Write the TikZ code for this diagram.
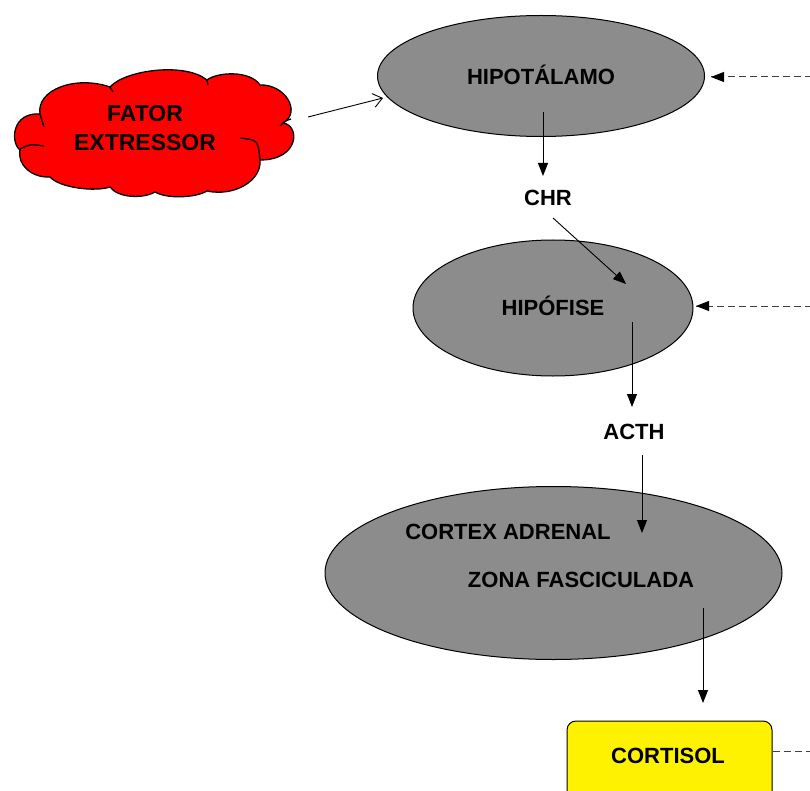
\documentclass[tikz,border=0pt]{standalone}
\usepackage{fontspec}
\setmainfont{Liberation Sans}
\usetikzlibrary{shapes.geometric,arrows.meta}
\definecolor{glandgray}{RGB}{140,140,140}
\definecolor{cloudred}{RGB}{255,0,0}
\tikzset{
  gland/.style={ellipse, draw=black, line width=1pt, fill=glandgray, inner sep=0pt},
  lbl/.style={font=\bfseries\fontsize{22}{29}\selectfont, text=black},
  flow/.style={draw=black, line width=0.9pt, -{Triangle[length=13pt,width=10pt]}},
  feedback/.style={draw=black!75, line width=1pt, dash pattern=on 7pt off 4pt},
  cloudline/.style={draw=black, line width=1.3pt},
}
\begin{document}
\begin{tikzpicture}[x=1pt,y=-1pt]
\useasboundingbox (0,0) rectangle (810,791);
% glands
\node[gland, minimum width=327, minimum height=121] (hipo) at (541,76) {};
\node[gland, minimum width=280, minimum height=136] (hipof) at (553,308) {};
\node[gland, minimum width=457, minimum height=173] (cortex) at (553.5,573) {};
\node[draw=black, line width=1pt, fill=yellow, rounded corners=9pt, minimum width=205, minimum height=80] (cortisol) at (669.5,761) {};
% cloud
\path[cloudline, fill=cloudred]
  (40,114) .. controls (36,90) and (75,75) .. (110,87)
  .. controls (125,70) and (185,62) .. (207,80)
  .. controls (217,72) and (250,70) .. (260,85)
  .. controls (285,84) and (302,112) .. (283,123)
  .. controls (300,125) and (300,160) .. (260,160)
  .. controls (262,180) and (235,197) .. (207,191)
  .. controls (195,198) and (167,199) .. (155,192)
  .. controls (143,199) and (118,198) .. (110,187)
  .. controls (95,192) and (60,188) .. (50,177)
  .. controls (32,178) and (17,165) .. (20,150)
  .. controls (10,142) and (12,112) .. (40,114) -- cycle;
\node[inner sep=0pt, minimum size=0pt] (cloud) at (156,131) {};
% inner arcs of the cloud
\draw[cloudline] (20,149) .. controls (30,144) .. (44,146);
\draw[cloudline] (40,114) .. controls (42,120) .. (44,127);
\draw[cloudline] (110,87) .. controls (112,89) .. (113,92);
\draw[cloudline] (207,80) .. controls (207,82) .. (208,85);
\draw[cloudline] (291,119) .. controls (285,121) .. (280,126);
\draw[cloudline] (240,138) .. controls (258,140) .. (260,160);
% labels
\node[lbl] (thipo) at (541,75) {HIPOTÁLAMO};
\node[lbl] (thipof) at (553,306) {HIPÓFISE};
\node[lbl] (tcortex) at (508,532) {CORTEX ADRENAL};
\node[lbl] (tzona) at (581,580) {ZONA FASCICULADA};
\node[lbl] (chr) at (548,198) {CHR};
\node[lbl] (acth) at (634,432) {ACTH};
\node[lbl] (tcortisol) at (668,756) {CORTISOL};
\node[lbl, align=center, font=\bfseries\fontsize{23}{29}\selectfont] (tcloud) at (145,128) {FATOR\\EXTRESSOR};
% connector ends
\coordinate (c1s) at (308,117);
\coordinate (c1e) at (383,98);
\coordinate (h1s) at (543,112);
\coordinate (h1e) at (543,176);
\coordinate (chrs) at (553,218);
\coordinate (chre) at (626,284);
\coordinate (p1s) at (632,322);
\coordinate (p1e) at (632,407);
\coordinate (a1s) at (642,455);
\coordinate (a1e) at (642,533);
\coordinate (z1s) at (703,608);
\coordinate (z1e) at (703,703);
\coordinate (fb1) at (812,77);
\coordinate (fb1e) at (711,77);
\coordinate (fb2) at (812,306);
\coordinate (fb2e) at (696,306);
\coordinate (fb3) at (812,751);
% connectors
\draw[line width=0.9pt, -{Straight Barb[length=9pt,width=14pt]}] (c1s) -- (c1e);
\draw[flow] (h1s) -- (h1e);
\draw[flow] (chrs) -- (chre);
\draw[flow] (p1s) -- (p1e);
\draw[flow] (a1s) -- (a1e);
\draw[flow] (z1s) -- (z1e);
\draw[feedback] (fb1) -- (fb1e);
\draw[black, line width=0.9pt, -{Triangle[length=13pt,width=10pt]}] (fb1e) ++(2,0) -- (fb1e);
\draw[feedback] (fb2) -- (fb2e);
\draw[black, line width=0.9pt, -{Triangle[length=13pt,width=10pt]}] (fb2e) ++(2,0) -- (fb2e);
\draw[feedback] (cortisol.east |- fb3) -- (fb3);
\end{tikzpicture}
\end{document}
